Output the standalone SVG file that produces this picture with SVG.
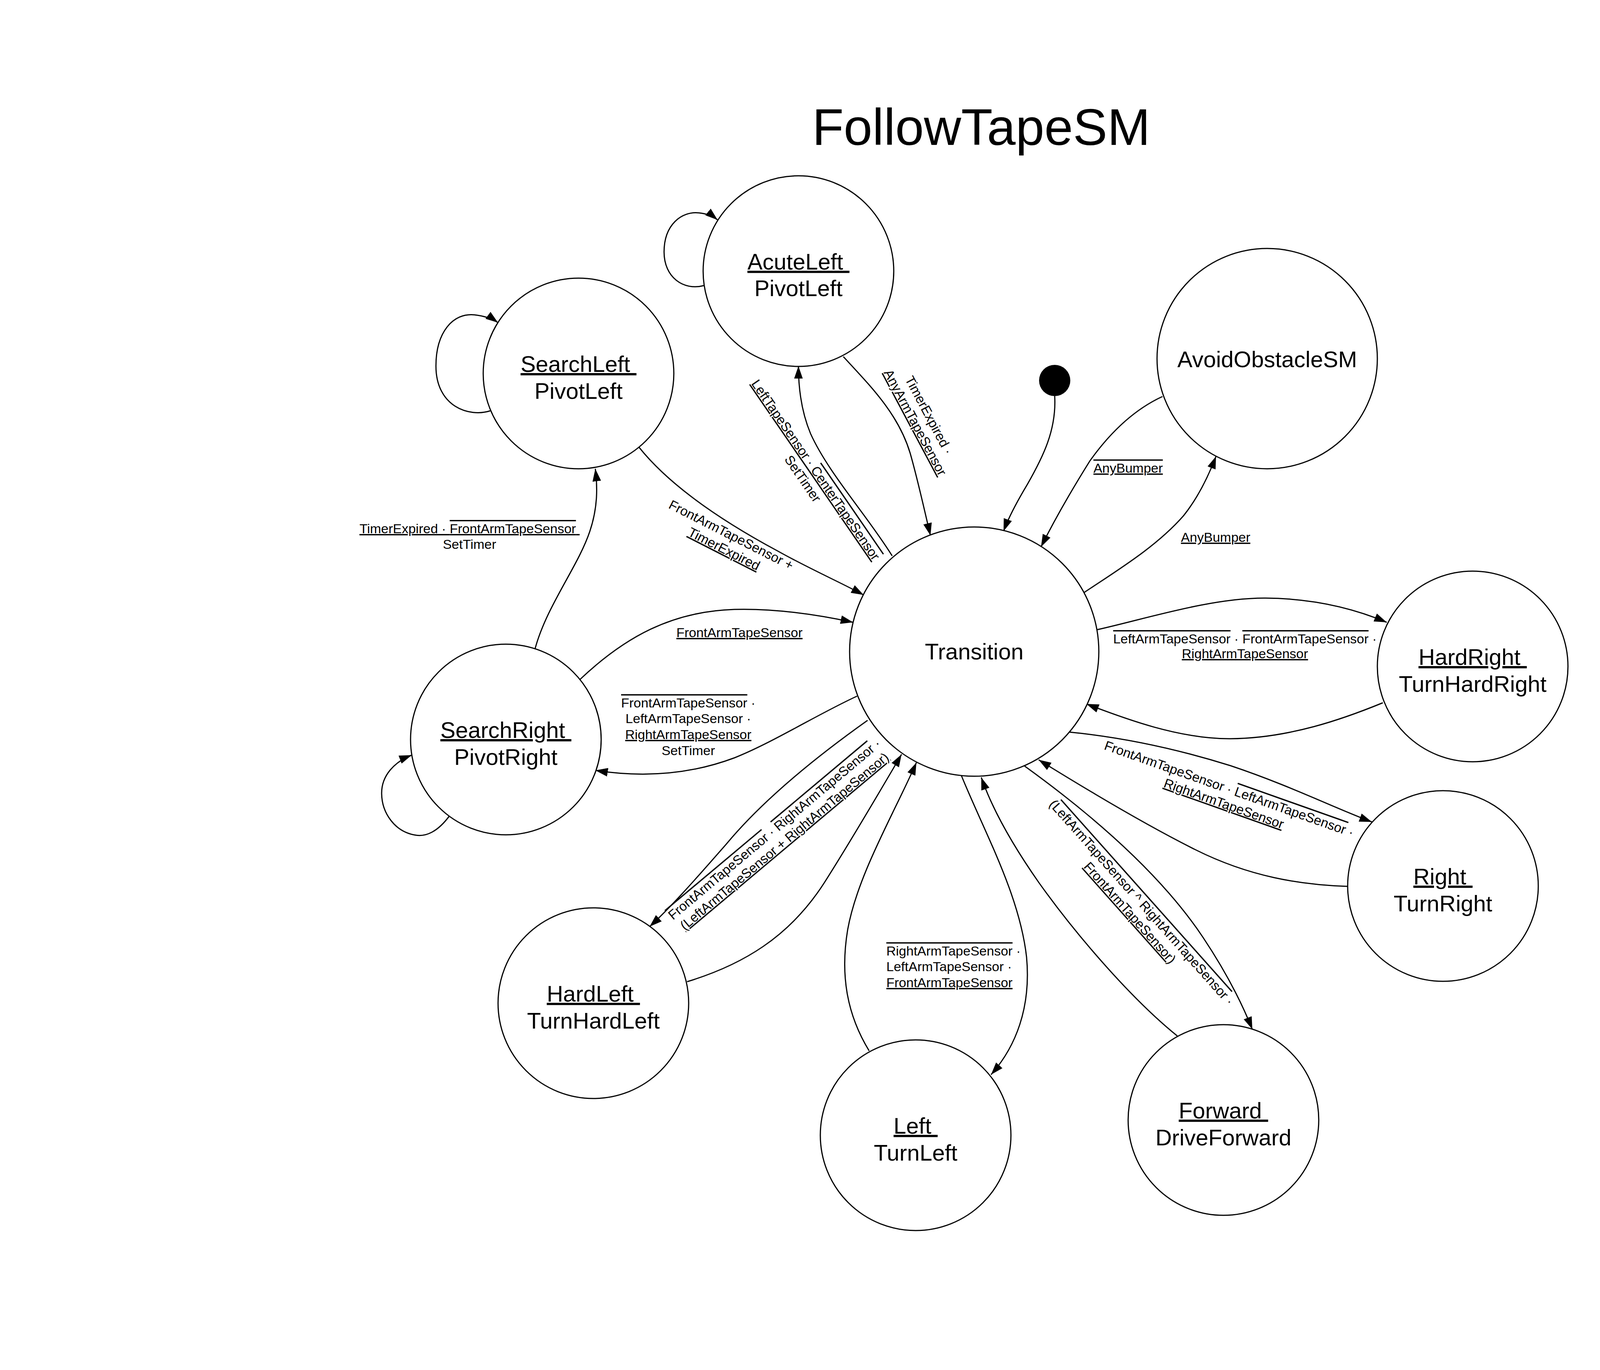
<svg xmlns="http://www.w3.org/2000/svg" width="4962" height="3507" viewBox="0 0 4962 3507">
<defs>
<style>
.node{fill:#fff;stroke:#000;stroke-width:3}
.edge{fill:none;stroke:#000;stroke-width:3;marker-end:url(#arr)}
.loop{fill:none;stroke:#000;stroke-width:3;marker-end:url(#arr)}
.nt{font-family:"Liberation Sans",Arial,sans-serif;font-size:58px;fill:#000;text-anchor:middle}
.lb{font-family:"Liberation Sans",Arial,sans-serif;font-size:34px;fill:#000;text-anchor:middle}
.ls{text-anchor:start}
.u{text-decoration:underline}
.o{text-decoration:overline}
.uo{text-decoration:underline overline}
.title{font-family:"Liberation Sans",Arial,sans-serif;font-size:132px;fill:#000;text-anchor:middle}
</style>
<marker id="arr" markerUnits="userSpaceOnUse" viewBox="0 0 34 24" markerWidth="34" markerHeight="24" refX="32" refY="12" orient="auto">
<path d="M0,1 L32,12 L0,23 z" fill="#000"/>
</marker>
</defs>
<rect x="0" y="0" width="4962" height="3507" fill="#fff"/>
<text id="title" class="title" x="2512" y="371">FollowTapeSM</text>

<g id="connectors">
<path id="e-acute-self" class="loop" d="M1802,731 C1750,745 1700,710 1700,645 C1700,575 1745,540 1790,545 C1810,547 1825,553 1837,563"/>
<path id="e-searchleft-self" class="loop" d="M1257,1051 C1200,1070 1116,1040 1116,937 C1116,850 1160,800 1215,806 C1240,809 1260,815 1275,826"/>
<path id="e-searchright-self" class="loop" d="M1151,2088 C1120,2130 1090,2142 1065,2138 C1010,2130 977,2080 977,2030 C977,1985 1010,1950 1054,1933"/>
<path id="e-acute-trans" class="edge" d="M2159,913 C2230,990 2300,1060 2330,1160 C2350,1230 2365,1300 2382,1371"/>
<path id="e-trans-acute" class="edge" d="M2284,1423 C2220,1320 2120,1210 2075,1110 C2050,1050 2044,990 2044,937"/>
<path id="e-searchleft-trans" class="edge" d="M1636,1145 C1720,1250 1860,1340 1990,1410 C2070,1455 2150,1490 2211,1523"/>
<path id="e-searchright-searchleft" class="edge" d="M1370,1660 C1400,1550 1480,1450 1510,1360 C1530,1300 1530,1250 1524,1200"/>
<path id="e-searchright-trans" class="edge" d="M1484,1740 C1600,1630 1720,1565 1880,1560 C1990,1557 2100,1575 2184,1593"/>
<path id="e-trans-searchright" class="edge" d="M2194,1782 C2090,1830 1980,1900 1880,1940 C1760,1985 1640,1990 1524,1972"/>
<path id="e-trans-hardleft" class="edge" d="M2221,1844 C2100,1930 1960,2040 1860,2160 C1790,2240 1720,2320 1663,2372"/>
<path id="e-hardleft-trans" class="edge" d="M1759,2513 C1900,2470 2020,2400 2110,2260 C2180,2150 2250,2030 2308,1931"/>
<path id="e-left-trans" class="edge" d="M2225,2690 C2170,2600 2150,2500 2170,2380 C2195,2240 2290,2080 2346,1952"/>
<path id="e-trans-left" class="edge" d="M2461,1985 C2520,2130 2610,2290 2628,2450 C2640,2580 2600,2680 2537,2751"/>
<path id="e-forward-trans" class="edge" d="M3014,2652 C2900,2560 2760,2400 2660,2260 C2590,2160 2540,2070 2512,1990"/>
<path id="e-trans-forward" class="edge" d="M2623,1961 C2760,2060 2960,2220 3080,2400 C3140,2490 3180,2570 3206,2635"/>
<path id="e-right-trans" class="edge" d="M3450,2269 C3330,2265 3200,2245 3060,2175 C2930,2110 2780,2020 2659,1945"/>
<path id="e-trans-right" class="edge" d="M2737,1874 C2850,1885 2990,1910 3150,1960 C3300,2010 3420,2070 3512,2104"/>
<path id="e-trans-hardright" class="edge" d="M2808,1612 C2930,1585 3100,1530 3240,1531 C3360,1532 3460,1555 3550,1593"/>
<path id="e-hardright-trans" class="edge" d="M3540,1799 C3440,1840 3300,1890 3150,1891 C3020,1892 2880,1840 2781,1802"/>
<path id="e-init-trans" class="edge" d="M2700,1014 C2705,1100 2670,1170 2630,1240 C2600,1290 2580,1330 2569,1360"/>
<path id="e-avoid-trans" class="edge" d="M2976,1015 C2900,1050 2840,1110 2790,1180 C2740,1260 2700,1330 2665,1400"/>
<path id="e-trans-avoid" class="edge" d="M2775,1517 C2860,1460 2960,1400 3030,1320 C3070,1270 3095,1215 3113,1168"/>
</g>

<g id="edge-labels" xml:space="preserve">
<g transform="translate(2361,1072) rotate(62)"><text class="lb"><tspan x="0" y="-8">TimerExpired ·</tspan><tspan x="0" y="32" class="u">AnyArmTapeSensor</tspan></text></g>
<g transform="translate(2072,1214) rotate(55.5)"><text class="lb"><tspan x="0" y="-8" class="u">LeftTapeSensor · <tspan class="o">CenterTapeSensor</tspan></tspan><tspan x="0" y="32">SetTimer</tspan></text></g>
<g transform="translate(1863,1387) rotate(27)"><text class="lb"><tspan x="0" y="-8">FrontArmTapeSensor +</tspan><tspan x="0" y="32" class="u">TimerExpired</tspan></text></g>
<text class="lb"><tspan x="1202" y="1365" class="u">TimerExpired · <tspan class="o">FrontArmTapeSensor</tspan> </tspan><tspan x="1202" y="1405">SetTimer</tspan></text>
<text class="lb u" x="1893" y="1631">FrontArmTapeSensor</text>
<text class="lb"><tspan x="1762" y="1811"><tspan class="o">FrontArmTapeSensor</tspan> ·</tspan><tspan x="1762" y="1851">LeftArmTapeSensor ·</tspan><tspan x="1762" y="1892" class="u">RightArmTapeSensor</tspan><tspan x="1762" y="1933">SetTimer</tspan></text>
<g transform="translate(1995,2138) rotate(-40)"><text class="lb"><tspan x="0" y="-8"><tspan class="o">FrontArmTapeSensor</tspan> · <tspan class="o">RightArmTapeSensor</tspan> ·</tspan><tspan x="0" y="32" class="u">(LeftArmTapeSensor + RightArmTapeSensor)</tspan></text></g>
<text class="lb ls"><tspan x="2269" y="2446"><tspan class="o">RightArmTapeSensor</tspan> ·</tspan><tspan x="2269" y="2486">LeftArmTapeSensor ·</tspan><tspan x="2269" y="2527" class="u">FrontArmTapeSensor</tspan></text>
<g transform="translate(2908,2323) rotate(48.3)"><text class="lb"><tspan x="0" y="-8">(<tspan class="o">LeftArmTapeSensor ^ RightArmTapeSensor</tspan> ·</tspan><tspan x="0" y="32"><tspan class="u">FrontArmTapeSensor</tspan>)</tspan></text></g>
<g transform="translate(3140,2038) rotate(19.5)"><text class="lb"><tspan x="0" y="-8">FrontArmTapeSensor · <tspan class="o">LeftArmTapeSensor</tspan> ·</tspan><tspan x="0" y="32" class="u">RightArmTapeSensor</tspan></text></g>
<text class="lb"><tspan x="3187" y="1647"><tspan class="o">LeftArmTapeSensor</tspan> · <tspan class="o">FrontArmTapeSensor</tspan> ·</tspan><tspan x="3187" y="1685" class="u">RightArmTapeSensor</tspan></text>
<text class="lb uo" x="2888" y="1210">AnyBumper</text>
<text class="lb u" x="3112" y="1387">AnyBumper</text>
</g>

<g id="initial"><circle cx="2700" cy="974" r="40" fill="#000"/></g>

<g id="node-transition"><circle class="node" cx="2494" cy="1668" r="319"/><text class="nt" x="2494" y="1688">Transition</text></g>
<g id="node-acuteleft" xml:space="preserve"><circle class="node" cx="2044" cy="694" r="244"/><text class="nt"><tspan x="2044" y="690" class="u">AcuteLeft </tspan><tspan x="2044" y="758">PivotLeft</tspan></text></g>
<g id="node-searchleft" xml:space="preserve"><circle class="node" cx="1481" cy="956" r="244"/><text class="nt"><tspan x="1481" y="952" class="u">SearchLeft </tspan><tspan x="1481" y="1021">PivotLeft</tspan></text></g>
<g id="node-searchright" xml:space="preserve"><circle class="node" cx="1295" cy="1893" r="244"/><text class="nt"><tspan x="1295" y="1889" class="u">SearchRight </tspan><tspan x="1295" y="1958">PivotRight</tspan></text></g>
<g id="node-hardleft" xml:space="preserve"><circle class="node" cx="1519" cy="2568" r="244"/><text class="nt"><tspan x="1519" y="2564" class="u">HardLeft </tspan><tspan x="1519" y="2633">TurnHardLeft</tspan></text></g>
<g id="node-left" xml:space="preserve"><circle class="node" cx="2344" cy="2906" r="244"/><text class="nt"><tspan x="2344" y="2902" class="u">Left </tspan><tspan x="2344" y="2971">TurnLeft</tspan></text></g>
<g id="node-forward" xml:space="preserve"><circle class="node" cx="3132" cy="2867" r="244"/><text class="nt"><tspan x="3132" y="2863" class="u">Forward </tspan><tspan x="3132" y="2932">DriveForward</tspan></text></g>
<g id="node-right" xml:space="preserve"><circle class="node" cx="3694" cy="2268" r="244"/><text class="nt"><tspan x="3694" y="2264" class="u">Right </tspan><tspan x="3694" y="2333">TurnRight</tspan></text></g>
<g id="node-hardright" xml:space="preserve"><circle class="node" cx="3770" cy="1706" r="244"/><text class="nt"><tspan x="3770" y="1702" class="u">HardRight </tspan><tspan x="3770" y="1771">TurnHardRight</tspan></text></g>
<g id="node-avoid"><circle class="node" cx="3244" cy="918" r="282"/><text class="nt" x="3244" y="940">AvoidObstacleSM</text></g>
</svg>
